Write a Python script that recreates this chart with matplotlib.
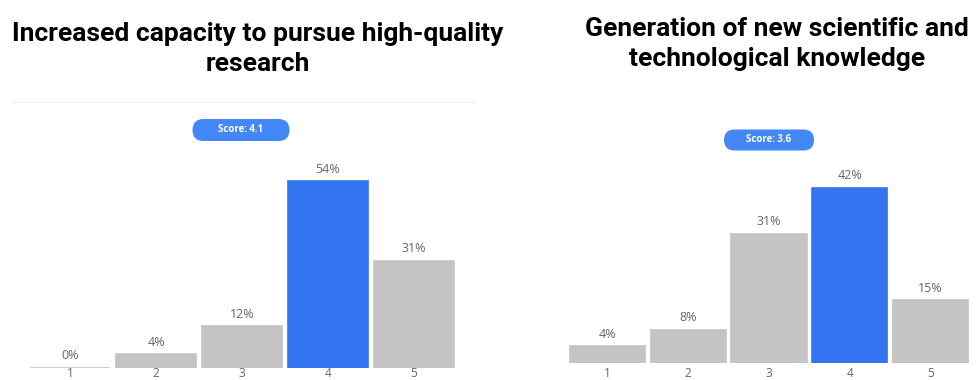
import matplotlib.pyplot as plt
from matplotlib.patches import FancyBboxPatch
from matplotlib.lines import Line2D

# data
ratings = ["1", "2", "3", "4", "5"]
left_pct = [0, 4, 12, 54, 31]
right_pct = [4, 8, 31, 42, 15]
left_title = "Increased capacity to pursue high-quality\nresearch"
right_title = "Generation of new scientific and\ntechnological knowledge"
left_score = "Score: 4.1"
right_score = "Score: 3.6"

W, H = 976, 380
fig = plt.figure(figsize=(W / 100, H / 100), dpi=100)

gray = "#c4c4c4"
blue = "#3574f0"
pill = "#4287f5"
txt = "#666666"


def px_axes(x0, y0, x1, y1):
    # pixel box (top-left origin) -> figure axes
    return fig.add_axes([x0 / W, 1 - y1 / H, (x1 - x0) / W, (y1 - y0) / H])


def draw_panel(ax, vals, ymax, tick_pad):
    cols = [blue if r == "4" else gray for r in ratings]
    xs = range(1, len(ratings) + 1)
    ax.bar(xs, vals, width=0.93, color=cols, edgecolor=cols, linewidth=1.2)
    for x, v in zip(xs, vals):
        ax.annotate(f"{v}%", (x, v), xytext=(0, 4), textcoords="offset points",
                    ha="center", va="bottom", fontsize=9, color=txt,
                    family="Open Sans")
    ax.set_xlim(0.5, len(ratings) + 0.5)
    ax.set_ylim(0, ymax)
    ax.set_xticks(list(xs))
    ax.set_xticklabels(ratings, fontsize=8.5, color=txt, family="Open Sans")
    ax.tick_params(axis="x", length=0, pad=tick_pad)
    ax.set_yticks([])
    for s in ax.spines.values():
        s.set_visible(False)
    ax.patch.set_alpha(0)


axl = px_axes(27, 108, 457, 368)
draw_panel(axl, left_pct, 260 / 3.46, -0.5)
axr = px_axes(567, 133, 971, 363)
draw_panel(axr, right_pct, 230 / 4.17, 3)

title_font = dict(fontsize=19, fontweight="bold", family="Roboto",
                  ha="center", va="center", linespacing=1.35, color="black")
fig.text(258 / W, 1 - 49 / H, left_title, **title_font)
fig.text(777 / W, 1 - 44 / H, right_title, **title_font)

# thin separator under left title
fig.add_artist(Line2D([12 / W, 475 / W], [1 - 102 / H, 1 - 102 / H],
                      color="#eef3f9", linewidth=1))


def score_pill(cx, cy, w, h, label):
    # drawn in inches (100 px per inch) so the rounding stays circular
    box = FancyBboxPatch(((cx - w / 2) / 100, (H - cy - h / 2) / 100), w / 100, h / 100,
                         boxstyle=f"round,pad=0,rounding_size={h / 2 / 100}",
                         transform=fig.dpi_scale_trans, facecolor=pill,
                         edgecolor="none")
    fig.add_artist(box)
    fig.text(cx / W, 1 - cy / H, label, ha="center", va="center", fontsize=7,
             fontweight="bold", color="white", family="Open Sans")


score_pill(241, 130, 97, 22, left_score)
score_pill(769, 140, 90, 21, right_score)

fig.savefig("out.png", dpi=100, facecolor="white")
